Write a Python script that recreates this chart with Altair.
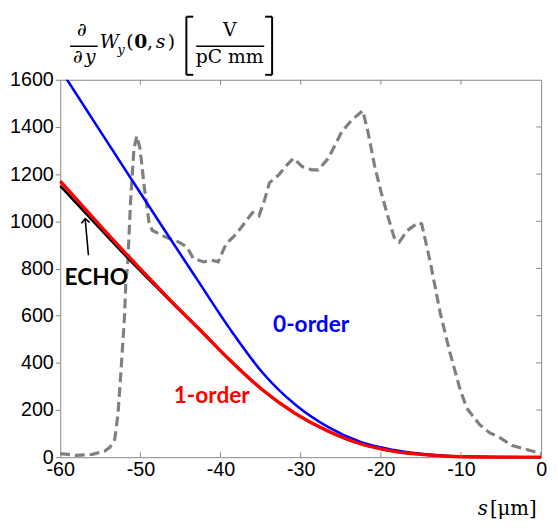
import altair as alt
import pandas as pd

# ---- data ----
s_bunch = [-60, -58, -56, -54.5, -53.8, -53.2, -52.8, -52.4, -52.0, -51.8, -51.6, -51.2, -50.8, -50.45,
           -50.05, -49.5, -48.9, -48.5, -46.85, -45.2, -44.2, -43.4, -42.1, -41.1, -40.3, -39.3, -38.0,
           -36.8, -36.0, -35.2, -34.55, -33.9, -32.7, -31.9, -30.9, -29.8, -28.6, -27.8, -26.55, -24.9,
           -23.7, -22.25, -21.6, -20.8, -20.0, -19.2, -18.35, -17.7, -16.7, -15.3, -14.9, -13.8, -12.6,
           -11.4, -10.15, -9.3, -7.7, -6.45, -5.2, -3.6, -2.0, 0]
v_bunch = [15, 8, 12, 25, 42, 76, 181, 376, 585, 752, 807, 1100, 1309, 1362,
           1309, 1142, 989, 961, 933, 912, 891, 843, 828, 835, 828, 905, 947,
           1002, 1037, 1023, 1086, 1163, 1198, 1232, 1267, 1232, 1218, 1218, 1267, 1378,
           1427, 1469, 1378, 1239, 1128, 1030, 933, 912, 961, 995, 989, 822, 613,
           446, 292, 209, 139, 104, 84, 49, 35, 14]

s_zero = [-60, -55.25, -51.15, -47.05, -42.95, -38.85, -34.75, -30.65, -26.55, -22.45, -18.35, -14, -10, -5, 0]
v_zero = [1645, 1395, 1180, 966, 755, 545, 358, 222, 127, 63, 30, 11, 3, 0.5, 0]

s_first = [-60, -55.5, -51.5, -48, -45, -42.95, -38.85, -34.75, -30.65, -26.55, -22.45, -18.35, -14, -10, -5, 0]
v_first = [1170, 1000, 852, 727, 622, 553, 412, 285, 185, 110, 56, 25, 9, 2, 0, 0]

s_echo = [-60, -55.5, -51.5, -48, -45, -42.95, -38.85, -34.75, -30.65, -26.55, -22.45, -18.35, -14, -10, -5, 0]
v_echo = [1150, 986, 842, 722, 620, 553, 412, 285, 185, 110, 56, 25, 9, 2, 0, 0]

x_ticks = [-60, -50, -40, -30, -20, -10, 0]
y_ticks = [0, 200, 400, 600, 800, 1000, 1200, 1400, 1600]
x_inner = [-50, -40, -30, -20, -10]
y_inner = [200, 400, 600, 800, 1000, 1200, 1400]

labels = ["ECHO", "0-order", "1-order"]
label_s = [-55.5, -28.7, -41.1]
label_v = [760, 560, 259]

arrow_s, arrow_v, arrow_s2, arrow_v2 = [-56.48], [856], [-56.89], [1011]

W, H = 488, 383

xs = alt.Scale(domain=[-60, 0], nice=False, zero=False)
ys = alt.Scale(domain=[0, 1600], nice=False)
x_enc = alt.X("s:Q", scale=xs, title=None,
              axis=alt.Axis(values=x_ticks, ticks=False, labelPadding=3, domain=False, grid=False,
                            labelFlush=False, labelExpr="datum.value + ''"))
y_enc = alt.Y("v:Q", scale=ys, title=None,
              axis=alt.Axis(values=y_ticks, tickSize=5, tickColor="#888888", labelPadding=2,
                            domain=False, grid=False, labelExpr="datum.value + ''", labelFlush=False))

df_b = pd.DataFrame({"s": s_bunch, "v": v_bunch})
df_0 = pd.DataFrame({"s": s_zero, "v": v_zero})
df_1 = pd.DataFrame({"s": s_first, "v": v_first})
df_e = pd.DataFrame({"s": s_echo, "v": v_echo})

bunch = alt.Chart(df_b).mark_line(color="#808080", strokeWidth=3.2, strokeDash=[10, 5]).encode(x=x_enc, y=y_enc)
zero = alt.Chart(df_0).mark_line(color="#0000FF", strokeWidth=2.6, interpolate="monotone", clip=True).encode(x=x_enc, y=y_enc)
echo = alt.Chart(df_e).mark_line(color="black", strokeWidth=2.6, interpolate="monotone").encode(x=x_enc, y=y_enc)
first = alt.Chart(df_1).mark_line(color="#FF0000", strokeWidth=3.4, interpolate="monotone").encode(x=x_enc, y=y_enc)

df_xi = pd.DataFrame({"s": x_inner})
df_yi = pd.DataFrame({"v": y_inner})
tick_b = alt.Chart(df_xi).mark_rule(color="#888888").encode(x=x_enc, y=alt.value(H), y2=alt.value(H - 5))
tick_t = alt.Chart(df_xi).mark_rule(color="#888888").encode(x=x_enc, y=alt.value(0), y2=alt.value(5))
tick_r = alt.Chart(df_yi).mark_rule(color="#888888").encode(y=y_enc, x=alt.value(W), x2=alt.value(W - 5))

df_l = pd.DataFrame({"s": label_s, "v": label_v, "t": labels})
lab_echo = alt.Chart(df_l.iloc[[0]]).mark_text(font="Lato", fontWeight="bold", fontSize=23, color="black").encode(x=x_enc, y=y_enc, text="t:N")
lab_zero = alt.Chart(df_l.iloc[[1]]).mark_text(font="Lato", fontWeight="bold", fontSize=23, color="#0000FF").encode(x=x_enc, y=y_enc, text="t:N")
lab_first = alt.Chart(df_l.iloc[[2]]).mark_text(font="Lato", fontWeight="bold", fontSize=23, color="#FF0000").encode(x=x_enc, y=y_enc, text="t:N")

df_a = pd.DataFrame({"s": arrow_s, "v": arrow_v, "s2": arrow_s2, "v2": arrow_v2})
arrow_line = alt.Chart(df_a).mark_rule(color="black", strokeWidth=1.6).encode(x=x_enc, y=y_enc, x2="s2:Q", y2="v2:Q")
arrow_head = alt.Chart(df_a).mark_point(shape="M-1,1L0,0L1,1", size=70, angle=355, filled=False,
                                        color="black", strokeWidth=1.6, opacity=1).encode(
    x=alt.X("s2:Q", scale=xs, title=None), y=alt.Y("v2:Q", scale=ys, title=None))

one = pd.DataFrame({"a": [0]})


def txt(t, x, y, size=19, style="normal", weight="normal", align="left", font="DejaVu Serif"):
    return alt.Chart(one).mark_text(text=t, font=font, fontSize=size, fontStyle=style, fontWeight=weight,
                                    align=align, baseline="alphabetic", color="black").encode(
        x=alt.value(x), y=alt.value(y))


def seg(x1, x2, y1, y2, w=1.5):
    return alt.Chart(one).mark_rule(color="black", strokeWidth=w).encode(
        x=alt.value(x1), x2=alt.value(x2), y=alt.value(y1), y2=alt.value(y2))


title_parts = [
    txt("∂", 22, -44, align="center"),
    seg(10, 38, -34, -34),
    txt("∂", 18, -17, align="center"),
    txt("y", 30.5, -17, style="italic", align="center"),
    txt("W", 40, -32, style="italic"),
    txt("y", 58, -26, size=13, style="italic"),
    txt("(", 67, -32),
    txt("0", 75, -32, weight="bold"),
    txt(",", 88, -32),
    txt("s", 97, -32, style="italic"),
    txt(")", 109, -32),
    seg(128, 128, -64, -5, 2), seg(128, 135, -64, -64, 2), seg(128, 135, -5, -5, 2),
    txt("V", 172, -44, align="center"),
    seg(138, 207, -34, -34),
    txt("pC mm", 172, -17, align="center"),
    seg(215, 215, -64, -5, 2), seg(208, 215, -64, -64, 2), seg(208, 215, -5, -5, 2),
    txt("s", 434, 442, size=20, style="italic", align="right"),
    txt("[μm]", 436, 442, size=20),
]

chart = alt.layer(
    bunch, zero, echo, first, tick_b, tick_t, tick_r,
    lab_echo, lab_zero, lab_first, arrow_line, arrow_head, *title_parts
).properties(
    width=W, height=H,
    autosize=alt.AutoSizeParams(type="none"),
    padding={"left": 53, "top": 69, "right": 9, "bottom": 66},
).configure_view(
    stroke="#888888", strokeWidth=1
).configure_axis(
    labelFont="Liberation Sans", labelFontSize=20, labelColor="black"
)

chart.save("out.html", embed_options={"renderer": "svg", "actions": False})
